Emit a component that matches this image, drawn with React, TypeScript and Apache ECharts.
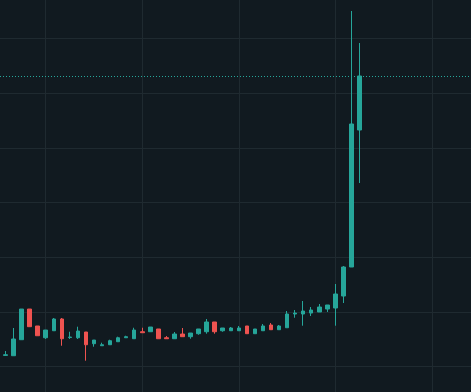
import React, { useEffect, useRef } from "react";
import * as echarts from "echarts";

// OHLC values (arbitrary price units; grid every 1.0)
const openPrices = [
  1.203, 1.197, 1.490, 2.051, 1.741, 1.526, 1.654, 1.869, 1.530, 1.526,
  1.631, 1.417, 1.380, 1.398, 1.453, 1.526, 1.508, 1.636, 1.636, 1.686,
  1.526, 1.508, 1.594, 1.545, 1.600, 1.636, 1.814, 1.654, 1.654, 1.654,
  1.741, 1.600, 1.654, 1.759, 1.673, 1.709, 1.960, 1.960, 1.978, 1.997,
  2.051, 2.070, 2.289, 2.820, 5.326,
];
const closePrices = [
  1.215, 1.503, 2.051, 1.728, 1.563, 1.667, 1.869, 1.508, 1.539, 1.649,
  1.398, 1.484, 1.398, 1.472, 1.526, 1.545, 1.667, 1.618, 1.722, 1.508,
  1.508, 1.594, 1.545, 1.612, 1.686, 1.814, 1.636, 1.704, 1.704, 1.704,
  1.600, 1.686, 1.741, 1.673, 1.741, 1.960, 1.978, 2.015, 2.033, 2.088,
  2.125, 2.326, 2.820, 5.436, 6.314,
];
const lowPrices = [
  1.203, 1.197, 1.490, 1.728, 1.563, 1.503, 1.654, 1.380, 1.503, 1.503,
  1.106, 1.362, 1.380, 1.398, 1.453, 1.526, 1.508, 1.618, 1.636, 1.508,
  1.508, 1.508, 1.545, 1.508, 1.581, 1.600, 1.600, 1.636, 1.654, 1.654,
  1.600, 1.600, 1.654, 1.673, 1.673, 1.709, 1.892, 1.746, 1.923, 1.997,
  1.997, 1.746, 2.161, 2.820, 4.356,
];
const highPrices = [
  1.283, 1.704, 2.051, 2.051, 1.741, 1.667, 1.887, 1.887, 1.636, 1.728,
  1.631, 1.484, 1.435, 1.490, 1.545, 1.563, 1.709, 1.709, 1.722, 1.686,
  1.557, 1.631, 1.704, 1.612, 1.686, 1.869, 1.814, 1.704, 1.722, 1.741,
  1.741, 1.686, 1.777, 1.795, 1.759, 2.015, 2.033, 2.198, 2.088, 2.143,
  2.125, 2.509, 2.838, 7.503, 6.917,
];

const verticalGridAt = [5, 17, 29, 41, 53];
const horizontalGridAt = [1, 2, 3, 4, 5, 6, 7];

const UP = "#26a69a";
const DOWN = "#ef5350";
const GRID = "#1f2a30";
const BG = "#111a20";

export default function App() {
  const ref = useRef<HTMLDivElement>(null);

  useEffect(() => {
    if (!ref.current) return;
    const chart = echarts.init(ref.current, null, { renderer: "svg" });
    const data = openPrices.map((o, i) => [
      i,
      o,
      closePrices[i],
      lowPrices[i],
      highPrices[i],
    ]);
    const lastClose = closePrices[closePrices.length - 1];

    chart.setOption({
      animation: false,
      backgroundColor: BG,
      grid: { left: 0, right: 0, top: 0, bottom: 0 },
      xAxis: {
        type: "value",
        min: -0.684,
        max: 57.862,
        show: false,
        splitLine: { show: false },
      },
      yAxis: {
        type: "value",
        min: 0.5335,
        max: 7.704,
        show: false,
        splitLine: { show: false },
      },
      series: [
        {
          type: "line",
          data: [[0, 1]],
          showSymbol: false,
          silent: true,
          z: 1,
          lineStyle: { opacity: 0 },
          markLine: {
            z: 1,
            silent: true,
            symbol: ["none", "none"],
            label: { show: false },
            lineStyle: { color: GRID, width: 1, type: "solid" },
            data: [
              ...verticalGridAt.map((v) => ({ xAxis: v })),
              ...horizontalGridAt.map((v) => ({ yAxis: v })),
            ],
          },
        },
        {
          type: "candlestick",
          z: 3,
          barWidth: 4,
          encode: { x: 0, y: [1, 2, 3, 4] },
          itemStyle: {
            color: UP,
            color0: DOWN,
            borderColor: UP,
            borderColor0: DOWN,
            borderWidth: 1,
          },
          data,
          markLine: {
            z: 5,
            silent: true,
            symbol: ["none", "none"],
            label: { show: false },
            lineStyle: { color: UP, width: 1, type: [1, 2] },
            data: [{ yAxis: lastClose }],
          },
        },
      ],
    });

    return () => {
      chart.dispose();
    };
  }, []);

  return (
    <div
      ref={ref}
      style={{ position: "fixed", left: 0, top: 0, width: 471, height: 392 }}
    />
  );
}
